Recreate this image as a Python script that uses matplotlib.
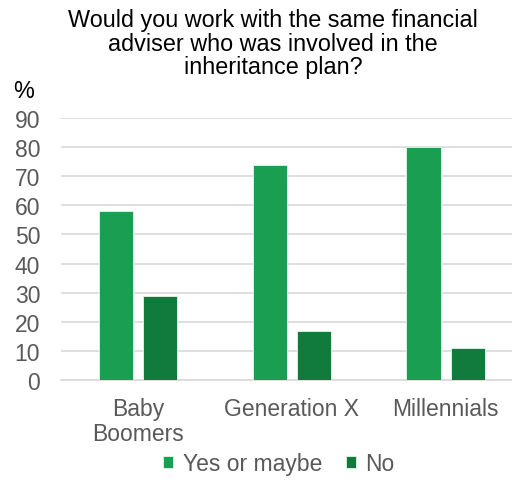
import matplotlib.pyplot as plt
import numpy as np

plt.rcParams['font.family'] = ['Liberation Sans', 'DejaVu Sans']

# Survey answers by generation (%)
generations = ["Baby\nBoomers", "Generation X", "Millennials"]
yes_or_maybe = [58, 74, 80]
no = [29, 17, 11]
y_ticks = list(range(0, 100, 10))

fig = plt.figure(figsize=(5.12, 5.02), dpi=100)
ax = fig.add_axes([61 / 512, 1 - 381 / 502, 1 - 61 / 512, (381 - 119) / 502])

x = np.arange(len(generations))
w = 0.225
off = 0.143
ax.bar(x - off, yes_or_maybe, w, color="#199e52", edgecolor="#e8f5ec", linewidth=0.6,
       label="Yes or maybe", zorder=3)
ax.bar(x + off, no, w, color="#117a3d", edgecolor="#e8f5ec", linewidth=0.6,
       label="No", zorder=3)

ax.set_xlim(-0.5, 2.43)
ax.set_ylim(0, 90)
ax.set_yticks(y_ticks)
ax.set_xticks(x)
ax.set_xticklabels(generations, fontsize=16.5, color="#595959", linespacing=1.12)
ax.tick_params(axis="y", labelsize=16.5, labelcolor="#595959", length=0, pad=15)
ax.tick_params(axis="x", length=0, pad=12)
ax.grid(axis="y", color="#d9d9d9", linewidth=1.2, zorder=0)
for s in ["top", "right", "left"]:
    ax.spines[s].set_visible(False)
ax.spines["bottom"].set_color("#d9d9d9")
ax.spines["bottom"].set_linewidth(1.2)

fig.text(273 / 512, 1 - 9 / 502,
         "Would you work with the same financial\nadviser who was involved in the\ninheritance plan?",
         ha="center", va="top", fontsize=16.8, linespacing=1.04, color="#000000")
fig.text(13 / 512, 1 - 92 / 502, "%", ha="left", va="center", fontsize=16.8, color="#000000")

leg = fig.legend(loc="center", bbox_to_anchor=(279 / 512, 1 - 465 / 502), ncol=2,
                 frameon=False, fontsize=16.5, handlelength=0.45, handleheight=0.45,
                 handletextpad=0.4, columnspacing=1.05)
for t in leg.get_texts():
    t.set_color("#595959")

fig.savefig("out.png", dpi=100)
